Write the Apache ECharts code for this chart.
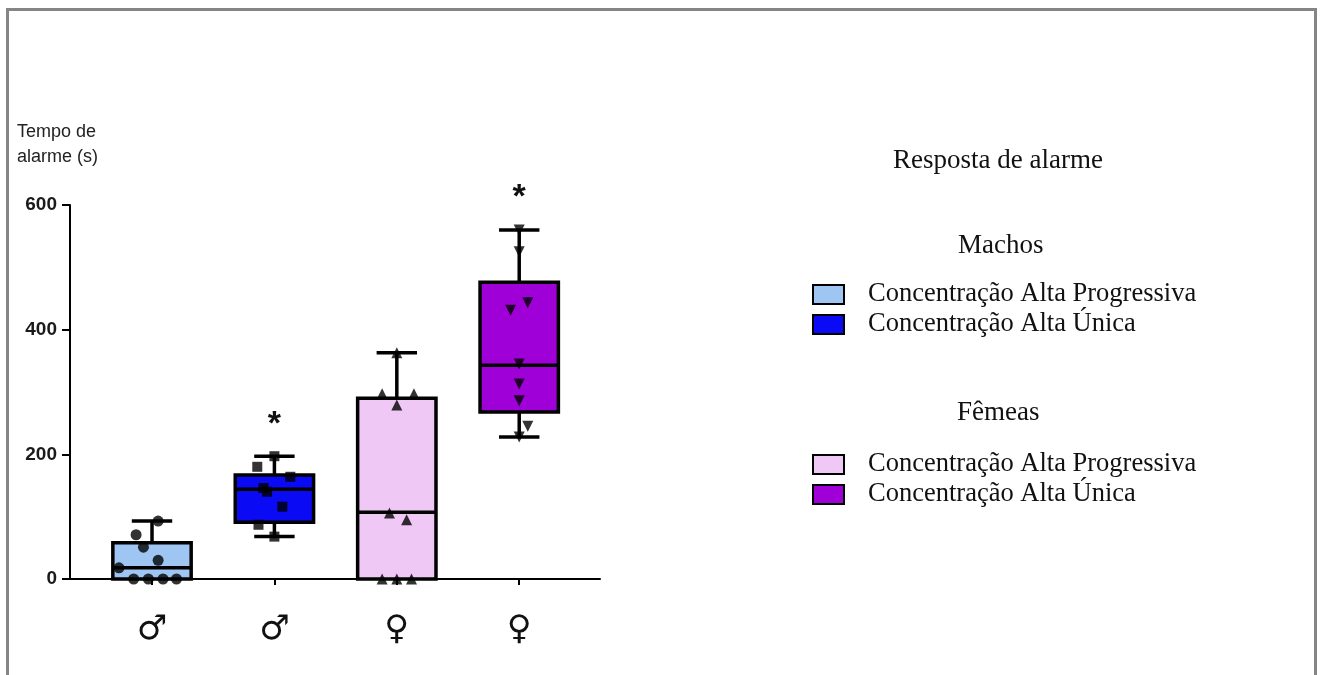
<!DOCTYPE html>
<html>
<head>
<meta charset="utf-8">
<title>Resposta de alarme</title>
<script src="https://cdn.jsdelivr.net/npm/echarts@6/dist/echarts.min.js"></script>
<style>
  html, body { margin: 0; padding: 0; background: #fff; }
  #chart { width: 1320px; height: 675px; }
</style>
</head>
<body>
<div id="chart"></div>
<script>
// Group positions on the x axis and their labels
const groups = [1, 2, 3, 4];
const sexLabels = ['\u2642', '\u2642', '\u2640', '\u2640'];

// Series keys (unique) and the legend text shown for each
const seriesNames = [
  'Machos | Concentração Alta Progressiva',
  'Machos | Concentração Alta Única',
  'Fêmeas | Concentração Alta Progressiva',
  'Fêmeas | Concentração Alta Única'
];

// Box summaries: [min, Q1, median, Q3, max] in seconds
const boxMachosProg = [0, 0, 18, 58, 93];
const boxMachosUnica = [68, 91, 144, 167, 197];
const boxFemeasProg = [0, 0, 107, 290, 363];
const boxFemeasUnica = [228, 268, 343, 476, 560];

// Individual observations (s)
const ptsMachosProg = [93, 71, 51, 30, 18, 0, 0, 0, 0];
const ptsMachosUnica = [197, 180, 164, 146, 140, 116, 87, 68];
const ptsFemeasProg = [363, 297, 297, 279, 106, 95, 0, 0, 0];
const ptsFemeasUnica = [560, 525, 443, 431, 345, 313, 286, 245, 228];

// Horizontal spread of the observations around each group centre
const spreadMachosProg = [0.05, -0.13, -0.07, 0.05, -0.27, -0.15, -0.03, 0.09, 0.2];
const spreadMachosUnica = [0, -0.14, 0.13, -0.09, -0.06, 0.065, -0.13, 0];
const spreadFemeasProg = [0, -0.12, 0.14, 0, -0.06, 0.08, -0.12, 0, 0.12];
const spreadFemeasUnica = [0, 0, 0.07, -0.07, 0, 0, 0, 0.07, 0];

// Groups flagged as significant (asterisk above whisker)
const significant = [false, true, false, true];

const yTicks = [0, 200, 400, 600];

const boxes = [boxMachosProg, boxMachosUnica, boxFemeasProg, boxFemeasUnica];
const points = [ptsMachosProg, ptsMachosUnica, ptsFemeasProg, ptsFemeasUnica];
const spreads = [spreadMachosProg, spreadMachosUnica, spreadFemeasProg, spreadFemeasUnica];

const fills = ['#9fc5f3', '#0a0af5', '#efc8f5', '#a000d8'];
const symbols = ['circle', 'rect', 'triangle', 'triangle'];
const symbolRotations = [0, 0, 0, 180];
const symbolSizes = [11, 10, 11, 11];

const SANS = '"Liberation Sans", Arial, sans-serif';
const SERIF = '"Liberation Serif", "Times New Roman", serif';

function renderBox(params, api) {
  const x = api.value(0);
  const vMin = api.value(1), q1 = api.value(2), med = api.value(3), q3 = api.value(4), vMax = api.value(5);
  const cx = api.coord([x, 0])[0];
  const y = v => api.coord([x, v])[1];
  const half = api.size([0.64, 0])[0] / 2;
  const capHalf = api.size([0.33, 0])[0] / 2;
  const lineStyle = { stroke: '#000', lineWidth: 3.5 };
  const kids = [];
  // whiskers with caps
  if (vMax > q3) {
    kids.push({ type: 'line', shape: { x1: cx, y1: y(q3), x2: cx, y2: y(vMax) }, style: lineStyle });
    kids.push({ type: 'line', shape: { x1: cx - capHalf, y1: y(vMax), x2: cx + capHalf, y2: y(vMax) }, style: lineStyle });
  }
  if (vMin < q1) {
    kids.push({ type: 'line', shape: { x1: cx, y1: y(q1), x2: cx, y2: y(vMin) }, style: lineStyle });
    kids.push({ type: 'line', shape: { x1: cx - capHalf, y1: y(vMin), x2: cx + capHalf, y2: y(vMin) }, style: lineStyle });
  }
  // box
  kids.push({
    type: 'rect',
    shape: { x: cx - half, y: y(q3), width: half * 2, height: y(q1) - y(q3) },
    style: { fill: fills[params.seriesIndex], stroke: '#000', lineWidth: 3.5 }
  });
  // median
  kids.push({ type: 'line', shape: { x1: cx - half, y1: y(med), x2: cx + half, y2: y(med) }, style: lineStyle });
  // significance mark
  if (significant[x - 1]) {
    kids.push({
      type: 'text',
      style: {
        text: '*', x: cx, y: y(vMax) - 32,
        font: 'bold 34px ' + SANS, fill: '#111',
        align: 'center', verticalAlign: 'middle'
      }
    });
  }
  return { type: 'group', children: kids };
}

const series = [];
groups.forEach((g, i) => {
  series.push({
    name: seriesNames[i],
    type: 'custom',
    renderItem: renderBox,
    encode: { x: 0, y: [1, 2, 3, 4, 5] },
    itemStyle: { color: fills[i], borderColor: '#000', borderWidth: 2 },
    data: [[g].concat(boxes[i])],
    z: 2,
    silent: true
  });
});
groups.forEach((g, i) => {
  series.push({
    name: 'obs-' + g,
    type: 'scatter',
    symbol: symbols[i],
    symbolRotate: symbolRotations[i],
    symbolSize: symbolSizes[i],
    itemStyle: { color: '#000' },
    data: points[i].map((v, k) => [g + spreads[i][k], v]),
    z: 3,
    silent: true
  });
});

const legendCommon = {
  orient: 'vertical',
  left: 807,
  icon: 'rect',
  itemWidth: 31,
  itemHeight: 19,
  itemGap: 3,
  selectedMode: false,
  itemStyle: { borderColor: '#000', borderWidth: 2 },
  textStyle: { fontFamily: SERIF, fontSize: 26.5, color: '#111', lineHeight: 20, padding: [0, 0, 0, 19] },
  formatter: name => name.split(' | ')[1]
};

const headingStyle = { fontFamily: SERIF, fontSize: 27, fontWeight: 'normal', color: '#111' };

const option = {
  backgroundColor: '#fff',
  animation: false,
  title: [
    { text: 'Tempo de\nalarme (s)', left: 12, top: 115,
      textStyle: { fontFamily: SANS, fontSize: 18, fontWeight: 'normal', color: '#222', lineHeight: 25 } },
    { text: 'Resposta de alarme', left: 888, top: 142, textStyle: headingStyle },
    { text: 'Machos', left: 953, top: 227, textStyle: headingStyle },
    { text: 'Fêmeas', left: 952, top: 394, textStyle: headingStyle }
  ],
  legend: [
    Object.assign({ top: 276, data: [seriesNames[0], seriesNames[1]] }, legendCommon),
    Object.assign({ top: 446, data: [seriesNames[2], seriesNames[3]] }, legendCommon)
  ],
  grid: { left: 70, top: 205, width: 530, bottom: 96, containLabel: false },
  xAxis: {
    type: 'value',
    min: 0.33,
    max: 4.66,
    splitLine: { show: false },
    axisLine: { show: true, onZero: false, lineStyle: { color: '#000', width: 2 } },
    axisTick: { show: true, customValues: groups, length: 6, lineStyle: { color: '#000', width: 2 } },
    axisLabel: {
      customValues: groups,
      formatter: v => sexLabels[Math.round(v) - 1],
      fontFamily: '"DejaVu Sans", sans-serif',
      fontSize: 34,
      color: '#111',
      margin: 34
    }
  },
  yAxis: {
    type: 'value',
    min: 0,
    max: 600,
    interval: 200,
    splitLine: { show: false },
    axisLine: { show: true, lineStyle: { color: '#000', width: 2 } },
    axisTick: { show: true, length: 8, lineStyle: { color: '#000', width: 2 } },
    axisLabel: {
      formatter: v => (yTicks.indexOf(v) >= 0 ? String(v) : ''),
      fontFamily: SANS, fontSize: 19, fontWeight: 'bold', color: '#1a1a1a', margin: 13
    }
  },
  graphic: [
    {
      type: 'rect', silent: true, z: -1,
      shape: { x: 7.5, y: 9.5, width: 1308, height: 720 },
      style: { fill: 'none', stroke: '#858585', lineWidth: 3 }
    }
  ],
  series: series
};

const chart = echarts.init(document.getElementById('chart'), null, { renderer: 'canvas' });
chart.setOption(option);
</script>
</body>
</html>
